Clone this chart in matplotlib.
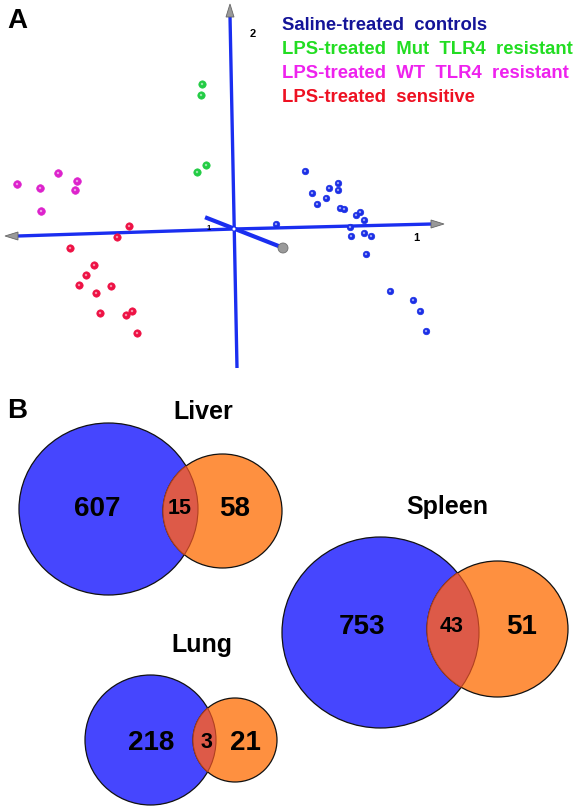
import matplotlib
matplotlib.use("Agg")
import matplotlib.pyplot as plt
from matplotlib.patches import Ellipse, Polygon, Circle

plt.rcParams['font.family'] = ['Liberation Sans', 'DejaVu Sans']

# ---------------- Panel A data (projected PCA scores, picture coordinates) ----------------
groups = ["Saline-treated controls", "LPS-treated Mut TLR4 resistant",
          "LPS-treated WT TLR4 resistant", "LPS-treated sensitive"]
group_colors = ["#141498", "#22dd22", "#ee22ee", "#ee1122"]
point_colors = ["#1a2ee6", "#22cc44", "#dd22cc", "#ee1144"]
point_sizes = [22, 28, 30, 28]

saline_x = [276, 305, 312, 317, 329, 326, 338, 338, 340, 344, 356, 360, 364, 350, 351, 364, 371, 366, 390, 413, 420, 426]
saline_y = [224, 171, 193, 204, 188, 198, 183, 190, 208, 209, 215, 212, 220, 227, 236, 233, 236, 254, 291, 300, 311, 331]
mut_x = [202, 201, 206, 197]
mut_y = [84, 95, 165, 172]
wt_x = [17, 40, 58, 77, 75, 41]
wt_y = [184, 188, 173, 181, 190, 211]
sens_x = [129, 117, 70, 94, 86, 79, 111, 96, 100, 126, 132, 137]
sens_y = [226, 237, 248, 265, 275, 285, 286, 293, 313, 315, 311, 333]
series_x = [saline_x, mut_x, wt_x, sens_x]
series_y = [saline_y, mut_y, wt_y, sens_y]

# ---------------- Panel B data ----------------
organs = ["Liver", "Spleen", "Lung"]
only_a = [607, 753, 218]
shared = [15, 43, 3]
only_b = [58, 51, 21]

fig = plt.figure(figsize=(5.81, 8.06), dpi=100)
ax = fig.add_axes([0, 0, 1, 1])
ax.set_xlim(0, 581)
ax.set_ylim(806, 0)
ax.axis('off')

# ---- Panel A: 3D-like axes ----
axis_blue = "#1a2ef0"
ox, oy = 234, 229
ax.plot([230, 237], [16, 368], color=axis_blue, lw=2.4, solid_capstyle='butt', zorder=2)
ax.plot([18, ox, 432], [236, oy, 224], color=axis_blue, lw=2.4, zorder=2)
ax.plot([207, 281], [218, 247], color=axis_blue, lw=3.0, zorder=2)
# arrow heads (gray cones)
for tri in ([(226, 17), (234, 17), (230, 4)],
            [(18, 232), (18, 240), (5, 236)],
            [(431, 220), (431, 228), (444, 224)]):
    ax.add_patch(Polygon(tri, closed=True, facecolor="#999999", edgecolor="#666666", lw=0.6, zorder=3))
ax.add_patch(Circle((283, 248), 5, facecolor="#9a9a9a", edgecolor="#707070", lw=0.6, zorder=3))
ax.add_patch(Circle((ox, oy), 1.5, facecolor="white", edgecolor="none", zorder=4))

ax.text(253, 34, "2", fontsize=8, fontweight='bold', ha='center', va='center')
ax.text(416, 238, "1", fontsize=8, fontweight='bold', ha='center', va='center')
ax.text(209, 229, "1", fontsize=5.5, fontweight='bold', ha='center', va='center')

for xs, ys, c, sz in zip(series_x, series_y, point_colors, point_sizes):
    ax.scatter(xs, ys, s=sz, color=c, edgecolors=c, linewidths=0.5, zorder=5)
    ax.scatter(xs, ys, s=3, color="white", alpha=0.55, edgecolors='none', zorder=6)

legend_y = [25, 50, 73, 97]
for g, c, ly in zip(groups, group_colors, legend_y):
    ax.text(282, ly, g.replace(" ", "  "), color=c, fontsize=13.3, fontweight='bold',
            ha='left', va='center')

ax.text(7, 21, "A", fontsize=20, fontweight='bold', ha='left', va='center')
ax.text(7, 411, "B", fontsize=20, fontweight='bold', ha='left', va='center')

# ---- Panel B: Venn diagrams ----
blue = "#4646fe"
orange = "#fe9040"
lens = "#dd5a48"
venn_layout = {
    # organ: blue ellipse, orange ellipse, title pos, text x positions, text y
    "Liver": ((108.5, 509, 179, 172), (222.5, 511, 119, 114), (203, 412), (97, 180, 235), 509),
    "Spleen": ((380.5, 632.5, 197, 191), (497.5, 629, 141, 136), (447, 507), (362, 452, 522), 627),
    "Lung": ((150.5, 740, 131, 130), (235, 740, 84, 84), (202, 645), (151, 206, 245), 743),
}
for organ, a, s, b in zip(organs, only_a, shared, only_b):
    (bc, oc, tpos, xs, ty) = venn_layout[organ]
    eb = Ellipse((bc[0], bc[1]), bc[2], bc[3], facecolor=blue, edgecolor="#111111", lw=0.9, zorder=2)
    eo = Ellipse((oc[0], oc[1]), oc[2], oc[3], facecolor=orange, edgecolor="#111111", lw=0.9, zorder=3)
    ax.add_patch(eb)
    ax.add_patch(eo)
    el = Ellipse((oc[0], oc[1]), oc[2], oc[3], facecolor=lens, edgecolor="#b04020", lw=0.8, zorder=4)
    ax.add_patch(el)
    el.set_clip_path(eb)
    eb2 = Ellipse((bc[0], bc[1]), bc[2], bc[3], facecolor='none', edgecolor="#b04020", lw=0.8, zorder=4)
    ax.add_patch(eb2)
    eb2.set_clip_path(eo)
    ax.text(tpos[0], tpos[1], organ, fontsize=18, fontweight='bold', ha='center', va='center')
    ax.text(xs[0], ty, str(a), fontsize=20, fontweight='bold', ha='center', va='center', zorder=6)
    ax.text(xs[1], ty, str(s), fontsize=15.5, fontweight='bold', ha='center', va='center', zorder=6)
    ax.text(xs[2], ty, str(b), fontsize=20, fontweight='bold', ha='center', va='center', zorder=6)

fig.savefig("out.png", dpi=100)
